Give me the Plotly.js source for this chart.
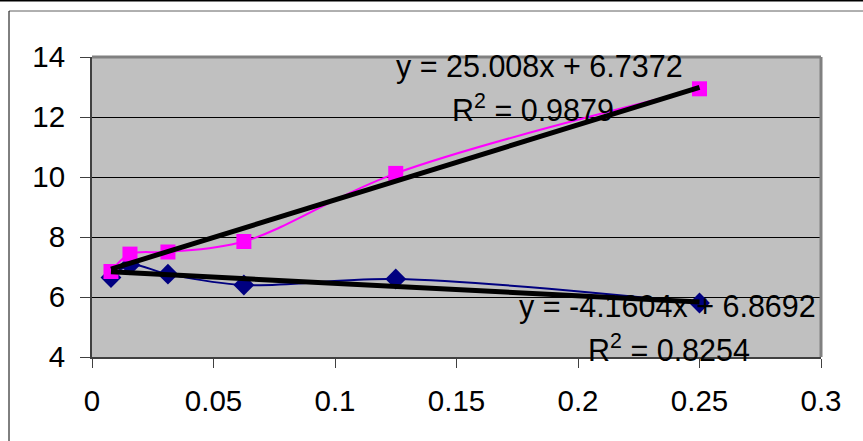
<!DOCTYPE html>
<html>
<head>
<meta charset="utf-8">
<script src="https://cdn.plot.ly/plotly-3.0.1.min.js"></script>
<style>
html,body{margin:0;padding:0;background:#fff;}
#chart{width:863px;height:441px;}
</style>
</head>
<body>
<div id="chart"></div>
<script>
// Data
var xValues = [0.0078125, 0.015625, 0.03125, 0.0625, 0.125, 0.25];
var pinkValues = [6.85, 7.43, 7.5, 7.85, 10.12, 12.94];
var blueValues = [6.65, 7.07, 6.76, 6.4, 6.6, 5.8];
var trendX = [0.0078125, 0.25];
var pinkTrend = [6.93, 12.99];
var blueTrend = [6.84, 5.83];
var yTicks = [4, 6, 8, 10, 12, 14];
var xTicks = [0, 0.05, 0.1, 0.15, 0.2, 0.25, 0.3];
var xTickText = ['0', '0.05', '0.1', '0.15', '0.2', '0.25', '0.3'];
var pinkEq = 'y = 25.008x + 6.7372';
var pinkR2 = 'R<sup>2</sup> = 0.9879';
var blueEq = 'y = -4.1604x + 6.8692';
var blueR2 = 'R<sup>2</sup> = 0.8254';

var FONT = 'Liberation Sans, Arial, sans-serif';

var traces = [
  {x: xValues, y: blueValues, type: 'scatter', mode: 'lines+markers',
   line: {color: '#000080', width: 2, shape: 'spline', smoothing: 1},
   marker: {symbol: 'diamond', size: 16, color: '#000080'}},
  {x: xValues, y: pinkValues, type: 'scatter', mode: 'lines+markers',
   line: {color: '#FF00FF', width: 2, shape: 'spline', smoothing: 1},
   marker: {symbol: 'square', size: 15, color: '#FF00FF'}},
  {x: trendX, y: pinkTrend, type: 'scatter', mode: 'lines',
   line: {color: '#000000', width: 5}},
  {x: trendX, y: blueTrend, type: 'scatter', mode: 'lines',
   line: {color: '#000000', width: 5}}
];

function ann(text, x, y) {
  return {text: text, x: x, y: y, xref: 'x', yref: 'y', showarrow: false,
          xanchor: 'center', yanchor: 'middle',
          font: {family: FONT, size: 30.5, color: '#000'}};
}

var layout = {
  width: 863, height: 441,
  margin: {l: 92, r: 42, t: 57, b: 84, pad: 0},
  paper_bgcolor: '#ffffff',
  plot_bgcolor: '#C0C0C0',
  showlegend: false,
  font: {family: FONT, size: 29, color: '#000'},
  xaxis: {
    range: [0, 0.3], tickvals: xTicks, ticktext: xTickText,
    showgrid: false, zeroline: false,
    showline: true, linecolor: '#404040', linewidth: 2,
    ticks: 'outside', ticklen: 9, tickwidth: 1, tickcolor: '#404040',
    tickfont: {family: FONT, size: 29.5, color: '#000'},
    ticklabelstandoff: 8
  },
  yaxis: {
    range: [4, 14], tickvals: yTicks,
    showgrid: true, gridcolor: '#000000', gridwidth: 1,
    zeroline: false,
    showline: true, linecolor: '#404040', linewidth: 2,
    ticks: 'outside', ticklen: 10, tickwidth: 1, tickcolor: '#404040',
    tickfont: {family: FONT, size: 29.5, color: '#000'},
    ticklabelstandoff: 9
  },
  shapes: [
    {type: 'line', xref: 'paper', yref: 'paper', x0: 0, x1: 1, y0: 1, y1: 1,
     line: {color: '#808080', width: 3}, layer: 'above'},
    {type: 'line', xref: 'paper', yref: 'paper', x0: 1, x1: 1, y0: 0, y1: 1,
     line: {color: '#808080', width: 3}, layer: 'above'},
    // outer chart frame
    {type: 'line', xref: 'paper', yref: 'paper',
     x0: -92/729, x1: 771/729, y0: 356.5/300, y1: 356.5/300,
     line: {color: '#000', width: 2}},
    {type: 'line', xref: 'paper', yref: 'paper',
     x0: -83/729, x1: 771/729, y0: 346/300, y1: 346/300,
     line: {color: '#606060', width: 1}},
    {type: 'line', xref: 'paper', yref: 'paper',
     x0: -83/729, x1: -83/729, y0: 346/300, y1: -84/300,
     line: {color: '#000', width: 1}}
  ],
  annotations: [
    ann(pinkEq, 0.184, 13.68),
    ann(pinkR2, 0.1815, 12.3),
    ann(blueEq, 0.2368, 5.68),
    ann(blueR2, 0.2375, 4.3)
  ]
};

Plotly.newPlot('chart', traces, layout, {staticPlot: true, displayModeBar: false});
</script>
</body>
</html>
